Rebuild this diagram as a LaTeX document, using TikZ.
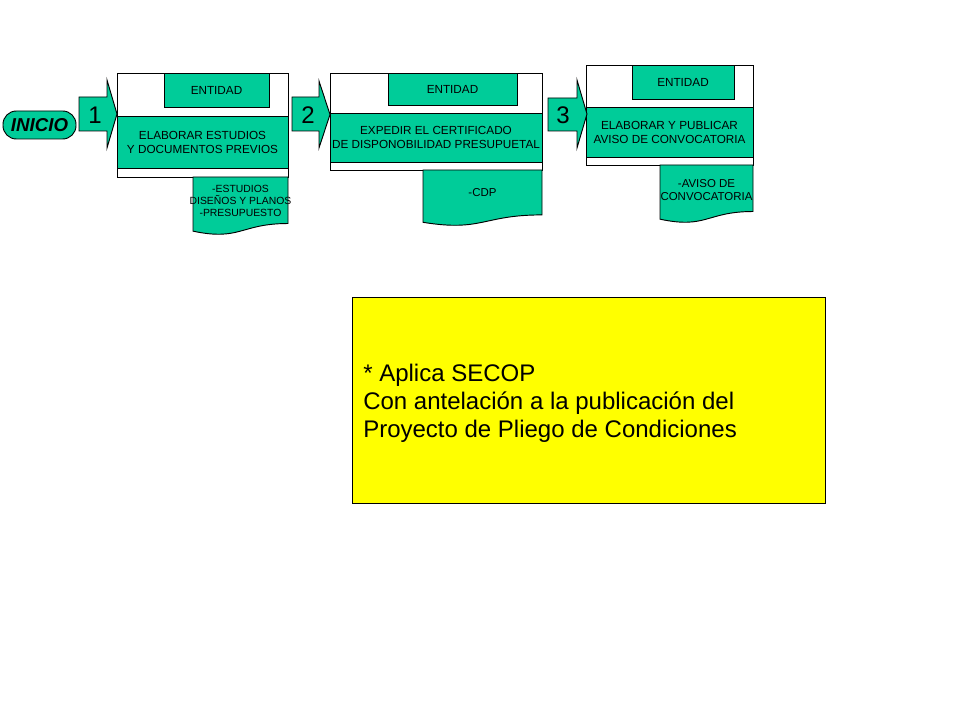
\documentclass[tikz,border=0pt]{standalone}
\usepackage{fontspec}
\setmainfont{Liberation Sans}
\definecolor{grn}{HTML}{00CC99}
\definecolor{ylw}{HTML}{FFFF00}
\tikzset{
  bx/.style={draw=black, line width=0.7pt, fill=grn, inner sep=0pt, align=center,
    font=\fontsize{8.8}{10.5}\selectfont},
  outerbox/.style={draw=black, line width=0.7pt, fill=white, inner sep=0pt},
  docshape/.style={draw=black, line width=0.7pt, fill=grn},
  doctext/.style={inner sep=0pt, align=center, font=\fontsize{8.6}{10.5}\selectfont},
  numtext/.style={inner sep=0pt, font=\fontsize{18}{18}\selectfont},
  blkarrow/.style={draw=black, line width=0.7pt, fill=grn, line join=miter},
  notetext/.style={inner sep=0pt, anchor=base west, font=\fontsize{18}{21}\selectfont},
}
% block arrow: x0 x1 x2 ytop ybot headtop headbot
\newcommand{\blockarr}[7]{%
  \draw[blkarrow] (#1,#4) -- (#2,#4) -- (#2,#6) -- (#3,{(#6+#7)/2}) -- (#2,#7) -- (#2,#5) -- (#1,#5) -- cycle;}
% document shape: x0 x1 y0 h
\newcommand{\docshp}[4]{%
  \draw[docshape] (#1,#3) -- (#2,#3) -- (#2,{#3+0.802*#4})
    .. controls ({(#1+#2)/2},{#3+0.802*#4}) and ({(#1+#2)/2},{#3+1.107*#4}) .. (#1,{#3+0.934*#4}) -- cycle;}
\begin{document}
\begin{tikzpicture}[x=0.75pt, y=-0.75pt]
\useasboundingbox[fill=white] (0,0) rectangle (960,720);

% INICIO
\node[draw=black, line width=0.7pt, fill=grn, rounded corners=10pt, minimum width=54.75pt,
  minimum height=21pt, inner sep=0pt, font=\fontsize{14}{14}\selectfont\bfseries\itshape]
  (inicio) at (39.5,125) {INICIO};

% ---- Step 1
\node[outerbox, minimum width=128.25pt, minimum height=78pt] (o1) at (202.5,125) {};
\node[bx, minimum width=78.75pt, minimum height=25.5pt] (e1) at (216.5,90) {ENTIDAD};
\node[bx, minimum width=128.25pt, minimum height=39pt] (m1) at (202.5,142) {ELABORAR ESTUDIOS\\Y DOCUMENTOS PREVIOS};
\docshp{193}{288}{177}{58}
\node[doctext, font=\fontsize{7.8}{8.9}\selectfont] (d1) at (240.5,201) {-ESTUDIOS\\DISEÑOS Y PLANOS\\-PRESUPUESTO};
\blockarr{79}{107}{117}{97}{131}{80}{148}
\node[numtext] (n1) at (95,115) {1};

% ---- Step 2
\node[outerbox, minimum width=159pt, minimum height=72.75pt] (o2) at (436,121.5) {};
\node[bx, minimum width=96.75pt, minimum height=24pt] (e2) at (452.5,89) {ENTIDAD};
\node[bx, minimum width=159pt, minimum height=36.75pt] (m2) at (436,137.5) {EXPEDIR EL CERTIFICADO\\DE DISPONOBILIDAD PRESUPUETAL};
\docshp{423}{542}{170}{56}
\node[doctext] (d2) at (482.5,192.5) {-CDP};
\blockarr{292}{319}{330}{97}{131}{81}{148}
\node[numtext] (n2) at (308,115) {2};

% ---- Step 3
\node[outerbox, minimum width=125.25pt, minimum height=75pt] (o3) at (669.5,115) {};
\node[bx, minimum width=76.5pt, minimum height=25.5pt] (e3) at (683,82) {ENTIDAD};
\node[bx, minimum width=125.25pt, minimum height=37.5pt] (m3) at (669.5,132) {ELABORAR Y PUBLICAR\\AVISO DE CONVOCATORIA};
\docshp{660}{753}{165}{58}
\node[doctext, font=\fontsize{8.6}{10.2}\selectfont] (d3) at (706.5,190) {-AVISO DE\\CONVOCATORIA};
\blockarr{548}{577}{587}{98}{131}{80}{148}
\node[numtext] (n3) at (563,115) {3};

% ---- Note
\node[draw=black, line width=0.7pt, fill=ylw, minimum width=354.75pt, minimum height=154.5pt, inner sep=0pt] (note) at (588.5,400) {};
\node[notetext] (t1) at (363,381) {* Aplica SECOP};
\node[notetext] (t2) at (363,409) {Con antelación a la publicación del};
\node[notetext] (t3) at (363,437) {Proyecto de Pliego de Condiciones};
\end{tikzpicture}
\end{document}
